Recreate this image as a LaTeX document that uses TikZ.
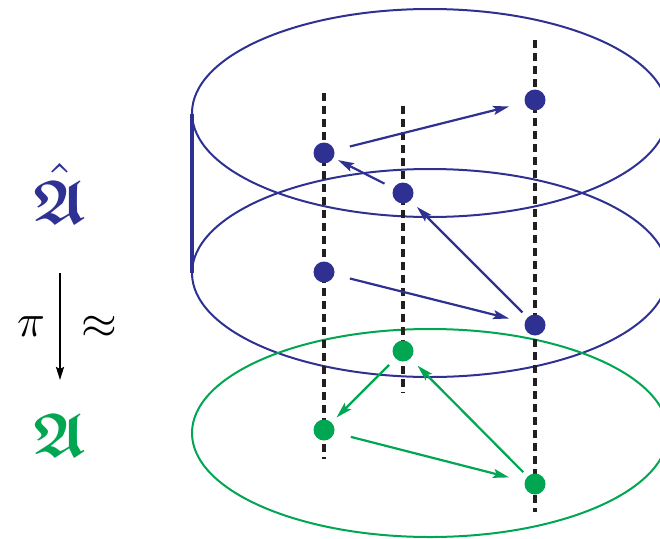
\documentclass[tikz,border=0pt]{standalone}
\usepackage{amsmath,amssymb}
\usetikzlibrary{arrows.meta}
\definecolor{dblue}{HTML}{2E3192}
\definecolor{dgreen}{HTML}{00A651}
\definecolor{dblack}{HTML}{231F20}
\begin{document}
\begin{tikzpicture}[x=1pt,y=-1pt,
  ell/.style={line width=2pt},
  fiber/.style={draw=dblack,line width=3.5pt,dash pattern=on 8pt off 5pt},
  dotnode/.style={circle,inner sep=0pt,minimum size=21pt},
  bdot/.style={dotnode,fill=dblue},
  gdot/.style={dotnode,fill=dgreen},
  arr/.style={line width=2.2pt,-{Stealth[length=16pt,width=9pt,inset=3pt]}},
  barrow/.style={arr,draw=dblue,fill=dblue},
  garrow/.style={arr,draw=dgreen,fill=dgreen},
  lbl/.style={inner sep=0pt}
]
\useasboundingbox (0,0) rectangle (660,538);
% ellipses
\draw[ell,dblue] (430,113) ellipse [x radius=238pt, y radius=104pt];
\draw[ell,dblue] (430,273) ellipse [x radius=238pt, y radius=104pt];
\draw[ell,dgreen] (430,433) ellipse [x radius=238pt, y radius=104pt];
\coordinate (vt) at (192,114);
\coordinate (vb) at (192,273);
\draw[dblue,line width=3.5pt] (vt) -- (vb);
% fibres
\coordinate (f1t) at (324,93);  \coordinate (f1b) at (324,459);
\coordinate (f2t) at (403,106); \coordinate (f2b) at (403,393);
\coordinate (f3t) at (535,40);  \coordinate (f3b) at (535,512);
\draw[fiber] (f1t) -- (f1b);
\draw[fiber] (f2t) -- (f2b);
\draw[fiber] (f3t) -- (f3b);
% dots
\node[bdot] (b1) at (324,153) {};
\node[bdot] (b2) at (403,193) {};
\node[bdot] (b3) at (535,100) {};
\node[bdot] (b4) at (324,272) {};
\node[bdot] (b5) at (535,325) {};
\node[gdot] (g1) at (403,351) {};
\node[gdot] (g2) at (324,430) {};
\node[gdot] (g3) at (535,484) {};
% arrows
\draw[barrow,shorten <=16pt,shorten >=16pt] (b1) -- (b3);
\draw[barrow,shorten <=10pt,shorten >=5pt] (b2) -- (b1);
\draw[barrow,shorten <=7pt,shorten >=9pt] (b5) -- (b2);
\draw[barrow,shorten <=16pt,shorten >=16pt] (b4) -- (b5);
\draw[garrow,shorten <=9pt,shorten >=7pt] (g1) -- (g2);
\draw[garrow,shorten <=17pt,shorten >=16pt] (g2) -- (g3);
\draw[garrow,shorten <=6pt,shorten >=10pt] (g3) -- (g1);
% labels
\node[lbl,text=dblue,anchor=base,scale=6.2] (ahat) at (60,223) {$\hat{\boldsymbol{\mathfrak{A}}}$};
\node[lbl,text=dgreen,anchor=base,scale=6.2] (a) at (60,456) {$\boldsymbol{\mathfrak{A}}$};
\coordinate (pt) at (60,273);
\coordinate (pb) at (60,380);
\draw[line width=2pt,-{Stealth[length=13pt,width=8pt,inset=2pt]}] (pt) -- (pb);
\node[lbl,scale=4.6] (pi) at (31,327) {$\pi$};
\node[lbl,scale=4.6] (ap) at (99,327) {$\approx$};
\end{tikzpicture}
\end{document}
